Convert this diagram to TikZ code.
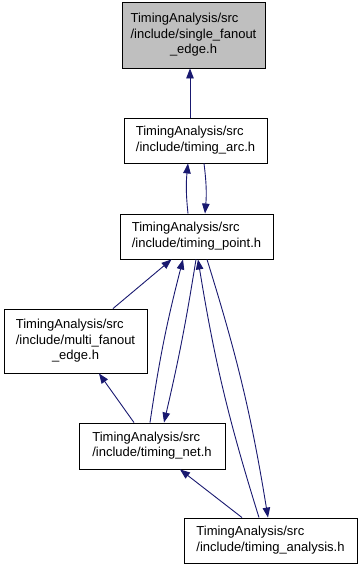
\documentclass[tikz,border=0pt]{standalone}
\usepackage{fontspec}
\setmainfont{Liberation Sans}
\usetikzlibrary{arrows.meta}
\definecolor{edgecol}{HTML}{191970}
\definecolor{rootfill}{HTML}{BFBFBF}
% last line of a wrapped file name sits in the middle
\newcommand{\lastline}[1]{\multicolumn{1}{@{}c@{}}{#1}}

\begin{document}
\begin{tikzpicture}[x=1pt, y=-1pt,
  hdr/.style={draw=black, fill=white, line width=0.9pt, inner sep=0pt,
              font=\fontsize{13}{15.5}\selectfont},
  dep/.style={-{Triangle[length=10pt, width=7.5pt]}, draw=edgecol, line width=0.9pt}
]
\useasboundingbox (0,0) rectangle (361,571);

\node[hdr, fill=rootfill, minimum width=143pt, minimum height=66pt] (sfe) at (193.5,35)
  {\begin{tabular}{@{}l@{}}TimingAnalysis/src\\/include/single\_fanout\\\lastline{\_edge.h}\end{tabular}};
\node[hdr, minimum width=143pt, minimum height=45pt] (arc) at (195.5,140.5)
  {\begin{tabular}{@{}l@{}}TimingAnalysis/src\\/include/timing\_arc.h\end{tabular}};
\node[hdr, minimum width=153pt, minimum height=45pt] (pt) at (196.5,236.5)
  {\begin{tabular}{@{}l@{}}TimingAnalysis/src\\/include/timing\_point.h\end{tabular}};
\node[hdr, minimum width=143pt, minimum height=64pt] (multi) at (75.5,341)
  {\begin{tabular}{@{}l@{}}TimingAnalysis/src\\/include/multi\_fanout\\\lastline{\_edge.h}\end{tabular}};
\node[hdr, minimum width=146pt, minimum height=46pt] (net) at (152,446)
  {\begin{tabular}{@{}l@{}}TimingAnalysis/src\\/include/timing\_net.h\end{tabular}};
\node[hdr, minimum width=173pt, minimum height=45pt] (ana) at (270.5,540.5)
  {\begin{tabular}{@{}l@{}}TimingAnalysis/src\\/include/timing\_analysis.h\end{tabular}};

% include edges
\draw[dep] ([xshift=-5.5pt]arc.north) -- ([xshift=-3.5pt]sfe.south);
\draw[dep] ([xshift=-8.5pt]pt.north) to[bend left=6] ([xshift=-7.5pt]arc.south);
\draw[dep] ([xshift=8.5pt]arc.south) to[bend left=6] ([xshift=8.5pt]pt.north);
\draw[dep] ([xshift=37.5pt]multi.north) -- ([xshift=-25pt]pt.south);
\draw[dep] ([xshift=-2pt]net.north) to[bend left=3] ([xshift=-13.5pt]pt.south);
\draw[dep] ([xshift=-0.5pt]pt.south) to[bend left=2] ([xshift=12pt]net.north);
\draw[dep] ([xshift=-11.5pt]ana.north) to[bend left=4] ([xshift=1.5pt]pt.south);
\draw[dep] ([xshift=10.5pt]pt.south) to[bend left=4] ([xshift=-2.5pt]ana.north);
\draw[dep] ([xshift=-28.5pt]ana.north) -- ([xshift=28pt]net.south);
\draw[dep] ([xshift=-18pt]net.north) -- ([xshift=23.5pt]multi.south);
\end{tikzpicture}
\end{document}
